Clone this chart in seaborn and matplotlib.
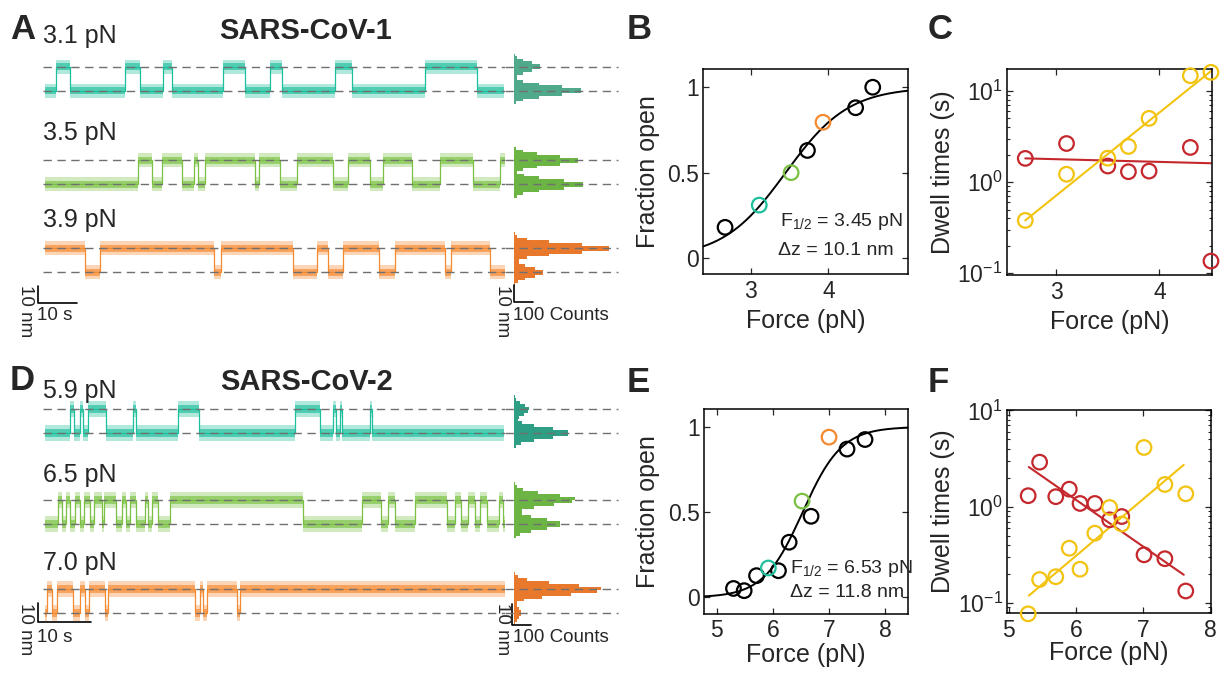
import matplotlib
matplotlib.use("Agg")
import matplotlib.pyplot as plt
import numpy as np
import seaborn as sns

W, H = 1225, 673
KT = 4.1  # pN nm

# ---------------- single-molecule traces ----------------
# dwell boundaries in seconds, and the state of each dwell (1 = open, 0 = closed)
cov1_t_31 = [0, 2.8, 6.4, 20.5, 24.4, 30.3, 32.6, 45.6, 51.3, 57.7, 60.8, 74.4, 78.7, 97.4, 110.8, 117.7]
cov1_s_31 = [0, 1, 0, 1, 0, 1, 0, 1, 0, 1, 0, 1, 0, 1, 0]
cov1_t_35 = [0, 23.8, 27.4, 30.0, 35.1, 38.2, 39.2, 41.0, 53.8, 54.9, 60.3, 64.6, 73.8, 77.7, 83.3,
             86.7, 94.1, 101.3, 109.7, 116.7, 117.9]
cov1_s_35 = [0, 1, 0, 1, 0, 1, 0, 1, 0, 1, 0, 1, 0, 1, 0, 1, 0, 1, 0, 1]
cov1_t_39 = [0, 10.3, 14.1, 43.3, 45.1, 63.6, 69.7, 72.6, 76.4, 85.6, 89.7, 102.6, 104.1, 114.1, 117.9]
cov1_s_39 = [1, 0, 1, 0, 1, 0, 1, 0, 1, 0, 1, 0, 1, 0]

cov2_t_59 = [0, 4.8, 5.5, 6.7, 7.3, 8.2, 11.7, 16.8, 17.4, 25.4, 29.4, 47.8, 52.6, 55.1, 55.6, 56.4,
             56.8, 62.1, 62.5, 87.8]
cov2_s_59 = [0, 1, 0, 1, 0, 1, 0, 1, 0, 1, 0, 1, 0, 1, 0, 1, 0, 1, 0]
cov2_t_65 = [0, 2.5, 3.3, 4.0, 4.8, 5.7, 6.7, 7.5, 8.6, 9.4, 10.9, 11.3, 13.6, 14.7, 15.5, 16.3, 17.4,
             19.1, 19.7, 20.5, 21.6, 23.9, 49.3, 60.6, 64.2, 65.6, 66.9, 70.7, 76.9, 78.4, 79.5, 80.9,
             82.2, 83.2, 84.5, 86.8, 87.6, 88.0]
cov2_s_65 = [0, 1, 0, 1, 0, 1, 0, 1, 0, 1, 0, 1, 0, 1, 0, 1, 0, 1, 0, 1, 0, 1, 0, 1, 0, 1, 0, 1, 0,
             1, 0, 1, 0, 1, 0, 1, 0]
cov2_t_70 = [0, 0.4, 1.3, 2.3, 5.4, 6.7, 7.6, 8.4, 11.5, 12.0, 28.7, 29.6, 30.2, 31.0, 36.7, 37.3, 88.0]
cov2_s_70 = [0, 1, 0, 1, 0, 1, 0, 1, 0, 1, 0, 1, 0, 1, 0, 1]

cov1_dz_obs = 13.5  # nm between dashed levels
cov2_dz_obs = 12.2

# extension histograms, 1.5 nm bins starting at -9 nm (closed level = 0)
hist_edges = [-9 + 1.5 * i for i in range(22)]
hist_c1_31 = [2, 12, 47, 129, 251, 350, 350, 251, 129, 48, 17, 18, 49, 96, 134, 134, 96, 49, 18, 5, 1]
hist_c1_35 = [2, 13, 48, 132, 258, 360, 360, 258, 132, 50, 18, 47, 122, 237, 330, 330, 237, 122, 45, 12, 2]
hist_c1_39 = [1, 6, 21, 56, 110, 153, 153, 110, 56, 25, 24, 67, 181, 354, 494, 494, 354, 181, 67, 18, 3]
hist_c2_59 = [2, 10, 38, 103, 201, 281, 281, 201, 103, 40, 19, 24, 50, 73, 76, 57, 31, 12, 4, 1, 0]
hist_c2_65 = [1, 8, 32, 88, 172, 240, 240, 172, 88, 41, 44, 102, 207, 302, 316, 237, 127, 49, 14, 3, 0]
hist_c2_70 = [0, 1, 5, 13, 25, 35, 35, 25, 16, 18, 52, 145, 295, 430, 450, 337, 181, 70, 20, 4, 1]

# ---------------- fraction open vs force ----------------
force_b = [2.67, 3.11, 3.52, 3.73, 3.93, 4.35, 4.57]
frac_b = [0.18, 0.31, 0.50, 0.63, 0.795, 0.88, 1.0]
trace_b = ["", "3.1", "3.5", "", "3.9", "", ""]
f_half_b, dz_b = 3.45, 10.1

force_e = [5.30, 5.49, 5.71, 5.92, 6.10, 6.29, 6.52, 6.68, 7.00, 7.32, 7.64]
frac_e = [0.053, 0.04, 0.128, 0.173, 0.157, 0.324, 0.565, 0.476, 0.94, 0.87, 0.926]
trace_e = ["", "", "", "5.9", "", "", "6.5", "", "7.0", "", ""]
f_half_e, dz_e = 6.53, 11.8

# ---------------- dwell times vs force ----------------
force_c = [2.7, 3.1, 3.5, 3.7, 3.9, 4.3, 4.5]
tau_open_c = [0.38, 1.22, 1.83, 2.46, 5.0, 14.7, 16.0]
tau_closed_c = [1.82, 2.65, 1.50, 1.30, 1.32, 2.40, 0.136]
fit_x_c = [2.7, 4.5]
fit_open_c = [0.38, 16.5]
fit_closed_c = [1.82, 1.61]

force_f = [5.29, 5.46, 5.70, 5.90, 6.06, 6.28, 6.50, 6.68, 7.01, 7.32, 7.63]
tau_open_f = [0.077, 0.175, 0.187, 0.37, 0.224, 0.53, 0.98, 0.66, 4.12, 1.70, 1.36]
tau_closed_f = [1.30, 2.90, 1.27, 1.52, 1.08, 1.08, 0.73, 0.79, 0.316, 0.288, 0.133]
fit_x_f = [5.3, 7.6]
fit_open_f = [0.119, 2.72]
fit_closed_f = [2.58, 0.196]

# ---------------- style ----------------
CYAN, GREEN, ORANGE = "#1dbf9c", "#7ac143", "#f5892f"
HCYAN1, HCYAN2, HGREEN, HORANGE = "#4fa98a", "#2e9f85", "#6cb444", "#e8792c"
YELLOW, RED = "#f2c30f", "#c4282d"
DASH = "#707070"
mark_color = {"": "black", "3.1": CYAN, "3.5": GREEN, "3.9": ORANGE,
              "5.9": CYAN, "6.5": GREEN, "7.0": ORANGE}

sns.set_style("ticks")
plt.rcParams["font.family"] = ["Liberation Sans", "DejaVu Sans"]
plt.rcParams["mathtext.default"] = "regular"
plt.rcParams["axes.linewidth"] = 1.1

fig = plt.figure(figsize=(W / 100, H / 100), dpi=100)


def px_axes(x0, y0, x1, y1):
    return fig.add_axes([x0 / W, 1 - y1 / H, (x1 - x0) / W, (y1 - y0) / H])


def px_text(x, y, s, **kw):
    fig.text(x / W, 1 - y / H, s, **kw)


def draw_trace(ax, bounds, states, dz, color):
    t = np.asarray(bounds, float)
    lvl = np.asarray(list(states) + [states[-1]], float) * dz
    # wide faint band + dense core to stand in for the measurement noise
    ax.fill_between(t, lvl - 4.0, lvl + 4.0, step="post", color=color, alpha=0.35, lw=0)
    ax.fill_between(t, lvl - 2.0, lvl + 2.0, step="post", color=color, alpha=0.65, lw=0)
    sns.lineplot(x=t, y=lvl, drawstyle="steps-post", color=color, lw=0.9,
                 estimator=None, sort=False, ax=ax)


def draw_hist(ax, counts, color):
    n = list(counts) + [counts[-1]]
    ax.fill_betweenx(hist_edges, 0, n, step="post", color=color, lw=0)


def trace_group(rows, closed_px, label_y, ppn, dz, tlim, bar, labels_y):
    for i, (t, s, hist, col, hcol, lab) in enumerate(rows):
        y0, y1 = closed_px[i] - 24 * ppn, closed_px[i] + 12 * ppn
        ax = px_axes(43, y0, 505, y1)
        draw_trace(ax, t, s, dz, col)
        for lev in (0, dz):
            ax.axhline(lev, color=DASH, lw=1.0, ls=(0, (6, 4)), zorder=3)
        ax.set_xlim(tlim)
        ax.set_ylim(-12, 24)
        ax.axis("off")

        hax = px_axes(514, y0, 618, y1)
        draw_hist(hax, hist, hcol)
        for lev in (0, dz):
            hax.axhline(lev, xmin=-0.09, xmax=1, color=DASH, lw=1.0, ls=(0, (6, 4)),
                        zorder=3, clip_on=False)
        hax.set_xlim(0, 540)
        hax.set_ylim(-12, 24)
        hax.axis("off")

        px_text(43, label_y[i], lab, fontsize=18, va="baseline")

    # scale bars drawn on the last row
    bx, by0, by1, hbx, hby0, hby1 = bar
    ax.plot([bx, bx, bx + 10], [by1, by0, by0], color="k", lw=1.2, clip_on=False)
    hax.plot([hbx, hbx, hbx + 100], [hby1, hby0, hby0], color="k", lw=1.2, clip_on=False)
    ty_top, ty_base = labels_y
    px_text(25.5, ty_top, "10 nm", rotation=-90, ha="center", va="top", fontsize=13.5)
    px_text(37, ty_base, "10 s", fontsize=13.5, va="baseline")
    px_text(503, ty_top, "10 nm", rotation=-90, ha="center", va="top", fontsize=13.5)
    px_text(513, ty_base, "100 Counts", fontsize=13.5, va="baseline")


def style_axes(ax):
    ax.tick_params(which="major", direction="in", top=True, right=True, length=4.5,
                   width=0.9, labelsize=16.5)
    ax.tick_params(which="minor", direction="in", top=True, right=True, length=2.5, width=0.8)
    ax.tick_params(axis="x", pad=4)
    ax.tick_params(axis="y", pad=3)
    for sp in ax.spines.values():
        sp.set_visible(True)
        sp.set_color("k")


def frac_panel(box, force, frac, keys, f_half, dz, xlim, xticks, xlab_y, ylab_x):
    ax = px_axes(*box)
    xs = np.linspace(xlim[0], xlim[1], 300)
    sns.lineplot(x=xs, y=1 / (1 + np.exp(-(xs - f_half) * dz / KT)), color="k", lw=1.4, ax=ax)
    for key in dict.fromkeys(keys):
        xi = [f for f, k in zip(force, keys) if k == key]
        yi = [v for v, k in zip(frac, keys) if k == key]
        c = mark_color[key]
        sns.scatterplot(x=xi, y=yi, s=110, color=c, facecolor="none", edgecolor=c,
                        linewidth=1.6, clip_on=False, zorder=4, ax=ax)
    ax.set_xlim(xlim)
    ax.set_ylim(-0.095, 1.105)
    ax.set_xticks(xticks)
    ax.set_yticks([0, 0.5, 1])
    ax.set_yticklabels(["0", "0.5", "1"])
    style_axes(ax)
    ax.set_xlabel("Force (pN)", fontsize=18)
    ax.set_ylabel("Fraction open", fontsize=18)
    ax.xaxis.set_label_coords(0.5, xlab_y)
    ax.yaxis.set_label_coords(ylab_x, 0.5)
    return ax


def dwell_panel(box, force, t_open, t_closed, fit_x, fit_open, fit_closed, xlim, ylim, xticks,
                xlab_y, ylab_x):
    ax = px_axes(*box)
    ax.set_yscale("log")
    sns.lineplot(x=fit_x, y=fit_closed, color=RED, lw=1.5, ax=ax)
    sns.lineplot(x=fit_x, y=fit_open, color=YELLOW, lw=1.5, ax=ax)
    sns.scatterplot(x=force, y=t_closed, s=110, color=RED, facecolor="none", edgecolor=RED,
                    linewidth=1.6, clip_on=False, zorder=4, ax=ax)
    sns.scatterplot(x=force, y=t_open, s=110, color=YELLOW, facecolor="none", edgecolor=YELLOW,
                    linewidth=1.6, clip_on=False, zorder=4, ax=ax)
    ax.set_xlim(xlim)
    ax.set_ylim(ylim)
    ax.set_xticks(xticks)
    ax.set_yticks([0.1, 1, 10])
    ax.set_yticklabels(["$10^{-1}$", "$10^{0}$", "$10^{1}$"])
    style_axes(ax)
    ax.set_xlabel("Force (pN)", fontsize=18)
    ax.set_ylabel("Dwell times (s)", fontsize=18)
    ax.xaxis.set_label_coords(0.5, xlab_y)
    ax.yaxis.set_label_coords(ylab_x, 0.5)
    return ax


# ---------------- A / D: traces ----------------
trace_group(
    [(cov1_t_31, cov1_s_31, hist_c1_31, CYAN, HCYAN1, "3.1 pN"),
     (cov1_t_35, cov1_s_35, hist_c1_35, GREEN, HGREEN, "3.5 pN"),
     (cov1_t_39, cov1_s_39, hist_c1_39, ORANGE, HORANGE, "3.9 pN")],
    closed_px=[90.7, 184.3, 272.3], label_y=[43, 140, 226.7], ppn=1.77, dz=cov1_dz_obs,
    tlim=(-0.5, 117.9), bar=(-1.7, -17.5, -7.6, -2, -16.6, -7.2), labels_y=(285, 320))
trace_group(
    [(cov2_t_59, cov2_s_59, hist_c2_59, CYAN, HCYAN2, "5.9 pN"),
     (cov2_t_65, cov2_s_65, hist_c2_65, GREEN, HGREEN, "6.5 pN"),
     (cov2_t_70, cov2_s_70, hist_c2_70, ORANGE, HORANGE, "7.0 pN")],
    closed_px=[433.3, 523.7, 613.3], label_y=[398, 481.7, 570], ppn=1.97, dz=cov2_dz_obs,
    tlim=(-0.4, 88.0), bar=(-1.3, -4.6, 5.4, -10, -5.9, 4.7), labels_y=(603, 641.5))

px_text(306, 39.3, "SARS-CoV-1", fontsize=21, fontweight="bold", ha="center", va="baseline")
px_text(307, 390, "SARS-CoV-2", fontsize=21, fontweight="bold", ha="center", va="baseline")

# ---------------- B / E ----------------
frac_panel((703.3, 69.3, 907.7, 274.3), force_b, frac_b, trace_b, f_half_b, dz_b,
           (2.39, 5.02), [3, 4], -0.171, -0.212)
px_text(780, 226, "F$_{1/2}$ = 3.45 pN", fontsize=14, va="baseline")
px_text(777.7, 255, "\u0394z = 10.1 nm", fontsize=14, va="baseline")

frac_panel((703.7, 409, 908.3, 613.7), force_e, frac_e, trace_e, f_half_e, dz_e,
           (4.77, 8.41), [5, 6, 7, 8], -0.143, -0.214)
px_text(790, 573.3, "F$_{1/2}$ = 6.53 pN", fontsize=14, va="baseline")
px_text(790, 596.7, "\u0394z = 11.8 nm", fontsize=14, va="baseline")

# ---------------- C / F ----------------
dwell_panel((1006.7, 69, 1212, 275.3), force_c, tau_open_c, tau_closed_c, fit_x_c, fit_open_c,
            fit_closed_c, (2.52, 4.51), (0.095, 17.4), [3, 4], -0.166, -0.252)
dwell_panel((1007.3, 410, 1210.7, 613.3), force_f, tau_open_f, tau_closed_f, fit_x_f, fit_open_f,
            fit_closed_f, (4.98, 8.0), (0.078, 10.1), [5, 6, 7, 8], -0.138, -0.257)

# panel letters
for letter, x, y in [("A", 10, 39), ("B", 627, 39), ("C", 928, 39),
                     ("D", 10, 390), ("E", 627, 392), ("F", 928, 392)]:
    px_text(x, y, letter, fontsize=25, fontweight="bold", va="baseline")

fig.savefig("out.png", dpi=100, facecolor="white")
